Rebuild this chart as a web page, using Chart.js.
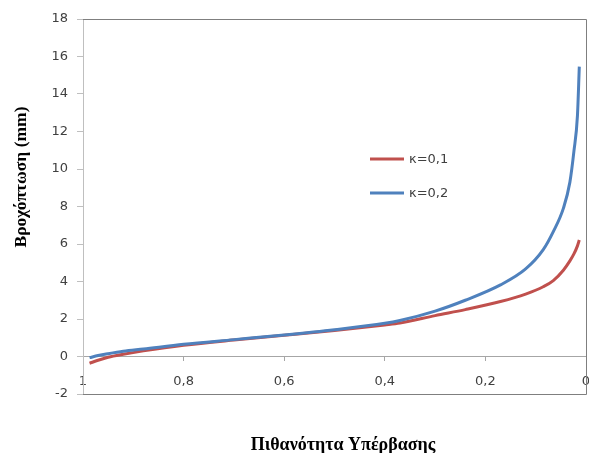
<!DOCTYPE html>
<html>
<head>
<meta charset="utf-8">
<script src="https://cdn.jsdelivr.net/npm/chart.js@4"></script>
<style>
  html, body { margin: 0; padding: 0; background: #fff; overflow: hidden; }
  #wrap { width: 589px; height: 453px; overflow: hidden; position: relative; }
  canvas { display: block; }
</style>
</head>
<body>
<div id="wrap"><canvas id="c" width="592" height="453"></canvas></div>
<script>
// ---- Data ----
const seriesNames = ['κ=0,1', 'κ=0,2'];
const exceedance = [0.987, 0.97, 0.95, 0.92, 0.88, 0.8, 0.7, 0.6, 0.5, 0.4, 0.37, 0.3, 0.24, 0.17, 0.12, 0.085, 0.065, 0.045, 0.032, 0.024, 0.017, 0.0133];
const rainK01 = [-0.36, -0.2, -0.04, 0.12, 0.3, 0.6, 0.88, 1.13, 1.39, 1.68, 1.78, 2.18, 2.5, 2.93, 3.33, 3.72, 4.05, 4.6, 5.1, 5.47, 5.9, 6.21];
const rainK02 = [-0.06, 0.05, 0.15, 0.28, 0.4, 0.65, 0.9, 1.15, 1.43, 1.77, 1.92, 2.42, 3.0, 3.82, 4.67, 5.7, 6.66, 7.9, 9.3, 10.95, 12.85, 15.46];
const xTickLabels = ['0', '0,2', '0,4', '0,6', '0,8', '1'];   // values 0 .. 1 step 0.2
const yTitle = 'Βροχόπτωση (mm)';
const xTitle = 'Πιθανότητα Υπέρβασης';

const colors = ['#C0504D', '#4F81BD'];
const tickFont = { family: 'DejaVu Sans', size: 13 };
const tickColor = '#404040';

const toPoints = ys => exceedance.map((x, i) => ({ x: x, y: ys[i] }));

const decorPlugin = {
  id: 'decor',
  afterDraw(chart) {
    const ctx = chart.ctx, a = chart.chartArea;
    ctx.save();
    // frame (top, right, bottom)
    ctx.strokeStyle = '#7f7f7f';
    ctx.lineWidth = 1;
    ctx.beginPath();
    ctx.moveTo(Math.round(a.left), Math.round(a.top) + 0.5);
    ctx.lineTo(Math.round(a.right) + 0.5, Math.round(a.top) + 0.5);
    ctx.lineTo(Math.round(a.right) + 0.5, Math.round(a.bottom) + 0.5);
    ctx.lineTo(Math.round(a.left), Math.round(a.bottom) + 0.5);
    ctx.stroke();
    // legend
    ctx.font = '13px "DejaVu Sans"';
    ctx.textBaseline = 'middle';
    ctx.textAlign = 'left';
    const ly = [159, 193];
    chart.data.datasets.forEach((ds, i) => {
      ctx.strokeStyle = ds.borderColor;
      ctx.lineWidth = 3;
      ctx.beginPath();
      ctx.moveTo(370, ly[i]);
      ctx.lineTo(404, ly[i]);
      ctx.stroke();
      ctx.fillStyle = tickColor;
      ctx.fillText(ds.label, 409, ly[i] + 1);
    });
    // axis titles
    ctx.fillStyle = '#000';
    ctx.textAlign = 'center';
    ctx.font = 'bold 18px "Liberation Serif"';
    ctx.fillText(xTitle, 343, 445);
    ctx.font = 'bold 17.5px "Liberation Serif"';
    ctx.translate(21, 177);
    ctx.rotate(-Math.PI / 2);
    ctx.fillText(yTitle, 0, 0);
    ctx.restore();
  }
};

new Chart(document.getElementById('c'), {
  type: 'line',
  data: {
    datasets: [
      { label: seriesNames[0], data: toPoints(rainK01), borderColor: colors[0], backgroundColor: colors[0], borderWidth: 3, pointRadius: 0, cubicInterpolationMode: 'monotone', order: 2 },
      { label: seriesNames[1], data: toPoints(rainK02), borderColor: colors[1], backgroundColor: colors[1], borderWidth: 3, pointRadius: 0, cubicInterpolationMode: 'monotone', order: 1 }
    ]
  },
  options: {
    responsive: false,
    animation: false,
    layout: { padding: { left: 0, top: 19, right: 6, bottom: 59 } },
    plugins: { legend: { display: false }, tooltip: { enabled: false } },
    scales: {
      x: {
        type: 'linear',
        reverse: true,
        min: 0, max: 1,
        position: { y: 0 },
        afterFit: s => { s.paddingLeft = 0; s.paddingRight = 0; },
        grid: { display: true, drawOnChartArea: false, drawTicks: true, tickLength: 4, color: '#a6a6a6' },
        border: { display: true, color: '#a6a6a6' },
        ticks: {
          stepSize: 0.2, padding: 13, maxRotation: 0, font: tickFont, color: tickColor,
          callback: v => xTickLabels[Math.round(v * 5)]
        }
      },
      y: {
        min: -2, max: 18,
        position: 'left',
        afterFit: s => { s.width = 83; },
        grid: { display: true, drawOnChartArea: false, drawTicks: true, tickLength: 6, color: '#bfbfbf' },
        border: { display: true, color: '#bfbfbf' },
        ticks: { stepSize: 2, padding: 9, font: tickFont, color: tickColor }
      }
    }
  },
  plugins: [decorPlugin]
});
</script>
</body>
</html>
